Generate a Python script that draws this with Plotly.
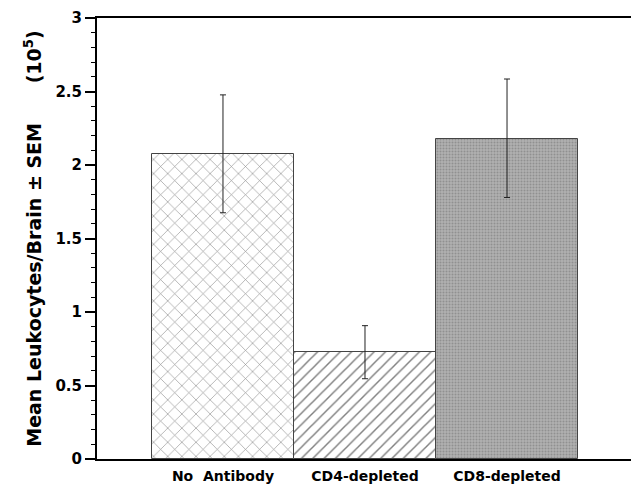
import plotly.graph_objects as go

categories = ["No  Antibody", "CD4-depleted", "CD8-depleted"]
means = [2.077, 0.726, 2.179]
err_plus = [0.40, 0.181, 0.406]
err_minus = [0.402, 0.18, 0.40]
y_ticks = [0, 0.5, 1, 1.5, 2, 2.5, 3]
y_tick_text = ["0", "0.5", "1", "1.5", "2", "2.5", "3"]

FONT = "DejaVu Sans"

patterns = [
    dict(shape="x", fgcolor="#1a1a1a", bgcolor="white", size=10, solidity=0.12),
    dict(shape="/", fgcolor="#000000", bgcolor="white", size=8, solidity=0.18),
    dict(shape=".", fgcolor="#707070", bgcolor="#b0b0b0", size=3, solidity=0.35),
]

fig = go.Figure()
for i, cat in enumerate(categories):
    fig.add_trace(go.Bar(
        x=[i], y=[means[i]], width=1.0,
        marker=dict(color="white", pattern=patterns[i],
                    line=dict(color="#444444", width=1)),
        error_y=dict(type="data", symmetric=False, array=[err_plus[i]],
                     arrayminus=[err_minus[i]], color="#222222",
                     thickness=1, width=3),
        showlegend=False,
    ))

fig.update_layout(
    width=631, height=485,
    margin=dict(l=97, r=0, t=18, b=26),
    paper_bgcolor="white", plot_bgcolor="white",
    bargap=0,
    font=dict(family=FONT, color="black"),
    xaxis=dict(
        range=[-0.887, 2.873],
        tickmode="array", tickvals=[0, 1, 2], ticktext=categories,
        tickfont=dict(family=FONT, size=14, weight="bold", color="black"),
        ticks="", showline=True, linecolor="black", linewidth=2,
        mirror=True, showgrid=False, zeroline=False,
        ticklabelstandoff=3,
    ),
    yaxis=dict(
        range=[0, 3],
        tickmode="array", tickvals=y_ticks, ticktext=y_tick_text,
        tickfont=dict(family=FONT, size=15, weight="bold", color="black"),
        ticks="outside", ticklen=10, tickwidth=2, tickcolor="black",
        minor=dict(dtick=0.1, ticks="outside", ticklen=4, tickwidth=1,
                   tickcolor="black", showgrid=False),
        showline=True, linecolor="black", linewidth=2,
        showgrid=False, zeroline=False,
        title=dict(text="Mean Leukocytes/Brain ± SEM      (10<sup>5</sup>)",
                   font=dict(family=FONT, size=19, weight="bold", color="black"),
                   standoff=9),
        automargin=False,
    ),
)

fig.write_html("out.html", config={"displayModeBar": False},
               post_script="document.body.style.margin='0';")
